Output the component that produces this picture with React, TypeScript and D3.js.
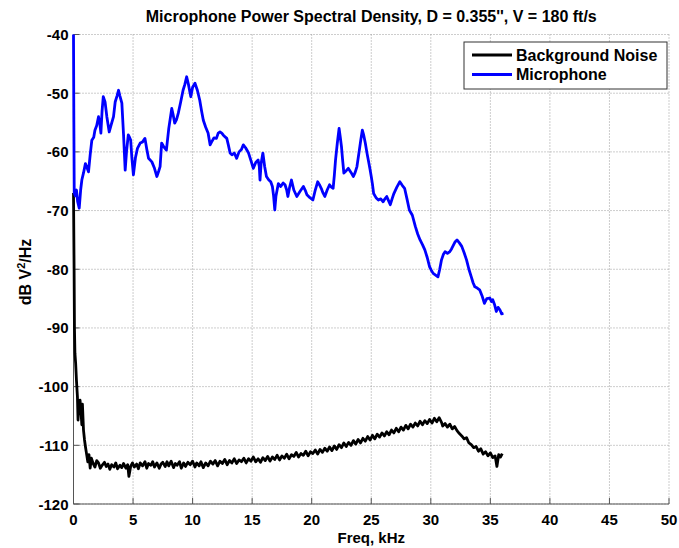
import React from "react";
import * as d3 from "d3";

const title = "Microphone Power Spectral Density, D = 0.355'', V = 180 ft/s";
const xLabel = "Freq, kHz";
const seriesNames = ["Background Noise", "Microphone"];
const seriesColors = ["#000000", "#0000ff"];
const xTicks = [0, 5, 10, 15, 20, 25, 30, 35, 40, 45, 50];
const yTicks = [-120, -110, -100, -90, -80, -70, -60, -50, -40];

const micData: [number, number][] = [
  [0, -40], [0.03, -55], [0.06, -67], [0.15, -67.5], [0.25, -66.5], [0.35, -68.5], [0.48, -69.6], [0.6, -66.5], [0.7, -64.8], [0.85, -63.5],
  [1.0, -62], [1.1, -62.5], [1.26, -63.4], [1.4, -60.5], [1.54, -58], [1.7, -57.5], [1.8, -56.3], [1.95, -55.5], [2.1, -54], [2.2, -55],
  [2.3, -56.8], [2.4, -53], [2.5, -50.6], [2.65, -51.5], [2.8, -54], [3.0, -56.6], [3.15, -55.5], [3.36, -54], [3.5, -51.5], [3.65, -50.5],
  [3.78, -49.5], [3.9, -50.5], [4.06, -51.7], [4.2, -57], [4.34, -63.1], [4.45, -60], [4.6, -57.1], [4.7, -57.5], [4.8, -58], [4.9, -61],
  [5.03, -63.9], [5.2, -61], [5.37, -59.4], [5.6, -58.5], [5.8, -58.3], [6.0, -57.7], [6.15, -59.5], [6.3, -61.1], [6.58, -61.7], [6.8, -62.8],
  [7.0, -64.2], [7.15, -63.3], [7.27, -62.5], [7.4, -58.5], [7.6, -59.2], [7.8, -59.7], [8.0, -56], [8.25, -52.6], [8.35, -53.5], [8.5, -55.1],
  [8.65, -54.5], [8.8, -53.4], [9.0, -51.5], [9.2, -49.5], [9.35, -48.5], [9.5, -47.2], [9.65, -48.5], [9.85, -50.6], [10.0, -49], [10.2, -48.3],
  [10.4, -49.5], [10.6, -51.2], [10.75, -53], [10.9, -54.6], [11.1, -55.8], [11.3, -56.8], [11.47, -58.8], [11.6, -58.3], [11.8, -57.6], [12.0, -57.7],
  [12.15, -56.8], [12.3, -56.6], [12.45, -56.8], [12.6, -57.2], [12.87, -57.7], [13.0, -58.8], [13.15, -60.2], [13.3, -60.5], [13.5, -60.2], [13.7, -61.1],
  [13.9, -60], [14.1, -59.6], [14.26, -58.8], [14.45, -59.3], [14.7, -60.2], [14.9, -61.5], [15.1, -62.8], [15.3, -61.8], [15.5, -61.4], [15.6, -62.5],
  [15.66, -64.8], [15.75, -62], [15.9, -60.2], [16.05, -62.5], [16.2, -64.2], [16.4, -64.8], [16.56, -65.1], [16.7, -65.9], [16.8, -67.5], [16.9, -69.9],
  [17.0, -67.5], [17.2, -65.4], [17.4, -65.9], [17.6, -65.3], [17.76, -65.6], [17.9, -66.5], [18.0, -67.6], [18.15, -66], [18.3, -64.8], [18.5, -66.5],
  [18.75, -67.6], [19.0, -66.8], [19.3, -65.9], [19.45, -66.5], [19.6, -67.3], [19.85, -67.8], [20.1, -68.2], [20.3, -66.5], [20.5, -65.1], [20.65, -65.6],
  [20.8, -66.2], [20.95, -67], [21.1, -67.6], [21.3, -66.5], [21.5, -65.6], [21.65, -66], [21.8, -66.2], [21.9, -64], [22.0, -61.4], [22.15, -58.5],
  [22.3, -56], [22.4, -57.5], [22.5, -59.1], [22.6, -61.5], [22.7, -63.6], [22.9, -63.2], [23.07, -62.8], [23.3, -63.5], [23.5, -64.2], [23.65, -63.5],
  [23.8, -62.5], [24.0, -59.7], [24.12, -58], [24.25, -56.3], [24.35, -57], [24.5, -58.5], [24.65, -60.3], [24.8, -61.9], [24.9, -63], [25.0, -64.2],
  [25.1, -65.5], [25.2, -67.1], [25.4, -67.8], [25.6, -68.2], [25.8, -68], [26.0, -68.5], [26.15, -68], [26.3, -67.6], [26.45, -68.3], [26.6, -69.0],
  [26.75, -68], [26.9, -67.1], [27.15, -66], [27.4, -65.1], [27.6, -65.7], [27.8, -66.2], [28.0, -68], [28.2, -69.9], [28.45, -70.8], [28.7, -72.7],
  [28.9, -74], [29.1, -75], [29.3, -75.8], [29.5, -76.7], [29.7, -78], [29.9, -79.6], [30.05, -80.2], [30.2, -80.7], [30.4, -81], [30.6, -81.3],
  [30.75, -80], [30.9, -78.4], [31.05, -77.5], [31.2, -77], [31.4, -77.3], [31.6, -77], [31.75, -76.5], [31.9, -75.9], [32.05, -75.3], [32.2, -75],
  [32.4, -75.5], [32.6, -76.1], [32.8, -77.2], [33.0, -78.4], [33.2, -80], [33.4, -81.3], [33.55, -82.3], [33.7, -83], [33.9, -83.2], [34.1, -83.5],
  [34.3, -84.5], [34.5, -85.8], [34.7, -85], [34.95, -84.9], [35.1, -85.5], [35.2, -85.2], [35.35, -86], [35.5, -87.2], [35.65, -86.5], [35.8, -86.9],
  [35.95, -87.6], [36.1, -87.5],
];

const noiseData: [number, number][] = [
  [0, -67], [0.05, -80], [0.08, -90], [0.12, -94.3], [0.18, -96], [0.25, -99], [0.33, -101.7], [0.38, -105.7], [0.45, -103], [0.55, -102.3],
  [0.62, -104], [0.7, -106.5], [0.75, -103], [0.84, -107.4], [0.92, -109], [1.0, -110.2], [1.1, -111.5], [1.2, -112.8], [1.3, -111.6], [1.4, -113.9],
  [1.5, -112.2], [1.65, -113.1], [1.8, -113.7], [1.95, -112.6], [2.1, -113.0], [2.25, -113.9], [2.4, -113.4], [2.6, -112.9], [2.75, -113.6], [2.9, -113.2],
  [3.05, -114.1], [3.2, -113.3], [3.4, -113.7], [3.55, -113.0], [3.7, -114.0], [3.9, -113.4], [4.05, -113.8], [4.2, -113.1], [4.4, -113.9], [4.55, -113.3],
  [4.65, -115.3], [4.8, -113.6], [4.95, -113.0], [5.1, -113.7], [5.3, -113.2], [5.45, -114.0], [5.6, -113.0], [5.8, -113.5], [6.0, -112.8], [6.15, -113.9],
  [6.3, -113.1], [6.5, -113.4], [6.65, -112.8], [6.8, -113.7], [7.0, -113.0], [7.2, -113.9], [7.35, -113.2], [7.5, -112.9], [7.7, -113.6], [7.85, -112.8],
  [8.0, -113.5], [8.2, -112.7], [8.4, -113.8], [8.55, -113.1], [8.7, -113.4], [8.9, -112.8], [9.05, -113.9], [9.25, -113.0], [9.4, -113.6], [9.6, -112.9],
  [9.8, -113.3], [10.0, -112.7], [10.2, -113.7], [10.35, -113.0], [10.55, -113.5], [10.7, -112.8], [10.9, -113.8], [11.1, -113.0], [11.3, -113.5], [11.5, -112.7],
  [11.7, -113.2], [11.9, -112.6], [12.1, -113.5], [12.3, -112.7], [12.5, -113.1], [12.7, -112.4], [12.9, -113.3], [13.1, -112.6], [13.3, -113.0], [13.5, -112.3],
  [13.7, -113.1], [13.9, -112.5], [14.1, -112.8], [14.3, -112.2], [14.5, -113.0], [14.7, -112.3], [14.9, -112.7], [15.1, -112.0], [15.3, -112.8], [15.5, -112.3],
  [15.7, -112.9], [15.9, -112.1], [16.1, -112.6], [16.3, -111.9], [16.5, -112.7], [16.7, -112.0], [16.9, -112.4], [17.1, -111.7], [17.3, -112.5], [17.5, -111.8],
  [17.7, -112.2], [17.9, -111.5], [18.1, -112.3], [18.3, -111.6], [18.5, -111.9], [18.7, -111.2], [18.9, -112.0], [19.1, -111.4], [19.3, -111.7], [19.5, -111.0],
  [19.7, -111.8], [19.9, -111.1], [20.1, -111.4], [20.3, -110.8], [20.5, -111.5], [20.7, -110.7], [20.9, -111.2], [21.1, -110.5], [21.3, -111.0], [21.5, -110.3],
  [21.7, -110.9], [21.9, -110.1], [22.1, -110.7], [22.3, -109.9], [22.5, -110.4], [22.7, -109.6], [22.9, -110.2], [23.1, -109.5], [23.3, -110.0], [23.5, -109.2],
  [23.7, -109.8], [23.9, -109.0], [24.1, -109.6], [24.3, -108.8], [24.5, -109.3], [24.7, -108.5], [24.9, -109.1], [25.1, -108.3], [25.3, -108.9], [25.5, -108.1],
  [25.7, -108.6], [25.9, -107.9], [26.1, -108.4], [26.3, -107.7], [26.5, -108.2], [26.7, -107.4], [26.9, -107.9], [27.1, -107.1], [27.3, -107.7], [27.5, -106.9],
  [27.7, -107.4], [27.9, -106.6], [28.1, -107.2], [28.3, -106.4], [28.5, -106.9], [28.7, -106.2], [28.9, -106.7], [29.1, -105.9], [29.3, -106.5], [29.5, -105.8],
  [29.7, -106.3], [29.9, -105.6], [30.1, -106.2], [30.3, -105.4], [30.5, -106.0], [30.7, -105.3], [30.9, -106.1], [31.0, -106.7], [31.2, -106.3], [31.4, -106.9],
  [31.6, -106.4], [31.8, -107.2], [32.0, -106.8], [32.2, -107.5], [32.4, -108.0], [32.6, -108.4], [32.8, -108.9], [33.0, -108.7], [33.2, -109.6], [33.4, -109.9],
  [33.6, -110.4], [33.8, -110.2], [34.0, -111.0], [34.2, -110.6], [34.4, -111.5], [34.6, -111.1], [34.8, -111.8], [35.0, -111.3], [35.2, -112.1], [35.4, -111.8],
  [35.55, -113.6], [35.7, -111.6], [35.85, -112.0], [36.0, -111.4],
];

const W = 679;
const H = 548;
const M = { left: 73.5, right: 669, top: 34.5, bottom: 504 };
const FONT = "'Liberation Sans', Arial, sans-serif";

export default function App() {
  const x = d3.scaleLinear().domain([0, 50]).range([M.left, M.right]);
  const y = d3.scaleLinear().domain([-120, -40]).range([M.bottom, M.top]);
  const line = d3
    .line<[number, number]>()
    .x((d) => x(d[0]))
    .y((d) => y(d[1]));

  const legendX = 464;
  const legendY = 42;

  return (
    <div style={{ position: "absolute", left: 0, top: 0 }}>
      <svg width={W} height={H} style={{ display: "block", background: "#fff" }}>
        <rect x={0} y={0} width={W} height={H} fill="#fff" />
        {/* grid */}
        {xTicks.map((t) => (
          <line key={"gx" + t} x1={x(t)} x2={x(t)} y1={M.top} y2={M.bottom} stroke="#9a9a9a" strokeWidth={1} strokeDasharray="1 2" />
        ))}
        {yTicks.map((t) => (
          <line key={"gy" + t} x1={M.left} x2={M.right} y1={y(t)} y2={y(t)} stroke="#9a9a9a" strokeWidth={1} strokeDasharray="1 2" />
        ))}
        {/* axes */}
        <line x1={M.left} x2={M.right} y1={M.bottom} y2={M.bottom} stroke="#555" strokeWidth={1} />
        <line x1={M.left} x2={M.left} y1={M.top} y2={M.bottom} stroke="#555" strokeWidth={1} />
        {xTicks.map((t) => (
          <g key={"tx" + t}>
            <line x1={x(t)} x2={x(t)} y1={M.bottom} y2={M.bottom - 6} stroke="#555" />
            <text x={x(t)} y={M.bottom + 21} textAnchor="middle" fontFamily={FONT} fontWeight="bold" fontSize={15} fill="#000">
              {t}
            </text>
          </g>
        ))}
        {yTicks.map((t) => (
          <g key={"ty" + t}>
            <line x1={M.left} x2={M.left + 6} y1={y(t)} y2={y(t)} stroke="#555" />
            <text x={M.left - 5} y={y(t) + 5.5} textAnchor="end" fontFamily={FONT} fontWeight="bold" fontSize={15} fill="#000">
              {t}
            </text>
          </g>
        ))}
        {/* series */}
        <path d={line(noiseData) || ""} fill="none" stroke={seriesColors[0]} strokeWidth={2.8} strokeLinejoin="round" />
        <path d={line(micData) || ""} fill="none" stroke={seriesColors[1]} strokeWidth={2.8} strokeLinejoin="round" />
        {/* title & labels */}
        <text x={(M.left + M.right) / 2} y={22} textAnchor="middle" fontFamily={FONT} fontWeight="bold" fontSize={16} fill="#000">
          {title}
        </text>
        <text x={(M.left + M.right) / 2} y={543} textAnchor="middle" fontFamily={FONT} fontWeight="bold" fontSize={15} fill="#000">
          {xLabel}
        </text>
        <text transform={`translate(31, 272) rotate(-90)`} textAnchor="middle" fontFamily={FONT} fontWeight="bold" fontSize={16} fill="#000">
          dB V<tspan dy={-6} fontSize={11}>2</tspan><tspan dy={6}>/Hz</tspan>
        </text>
        {/* legend */}
        <rect x={legendX} y={legendY} width={203} height={47} fill="#fff" stroke="#333" strokeWidth={1} />
        {seriesNames.map((n, i) => (
          <g key={n}>
            <line x1={472} x2={512} y1={legendY + 13 + i * 19.5} y2={legendY + 13 + i * 19.5} stroke={seriesColors[i]} strokeWidth={2.8} />
            <text x={516} y={legendY + 18.5 + i * 19.5} fontFamily={FONT} fontWeight="bold" fontSize={16} fill="#000">
              {n}
            </text>
          </g>
        ))}
      </svg>
    </div>
  );
}
